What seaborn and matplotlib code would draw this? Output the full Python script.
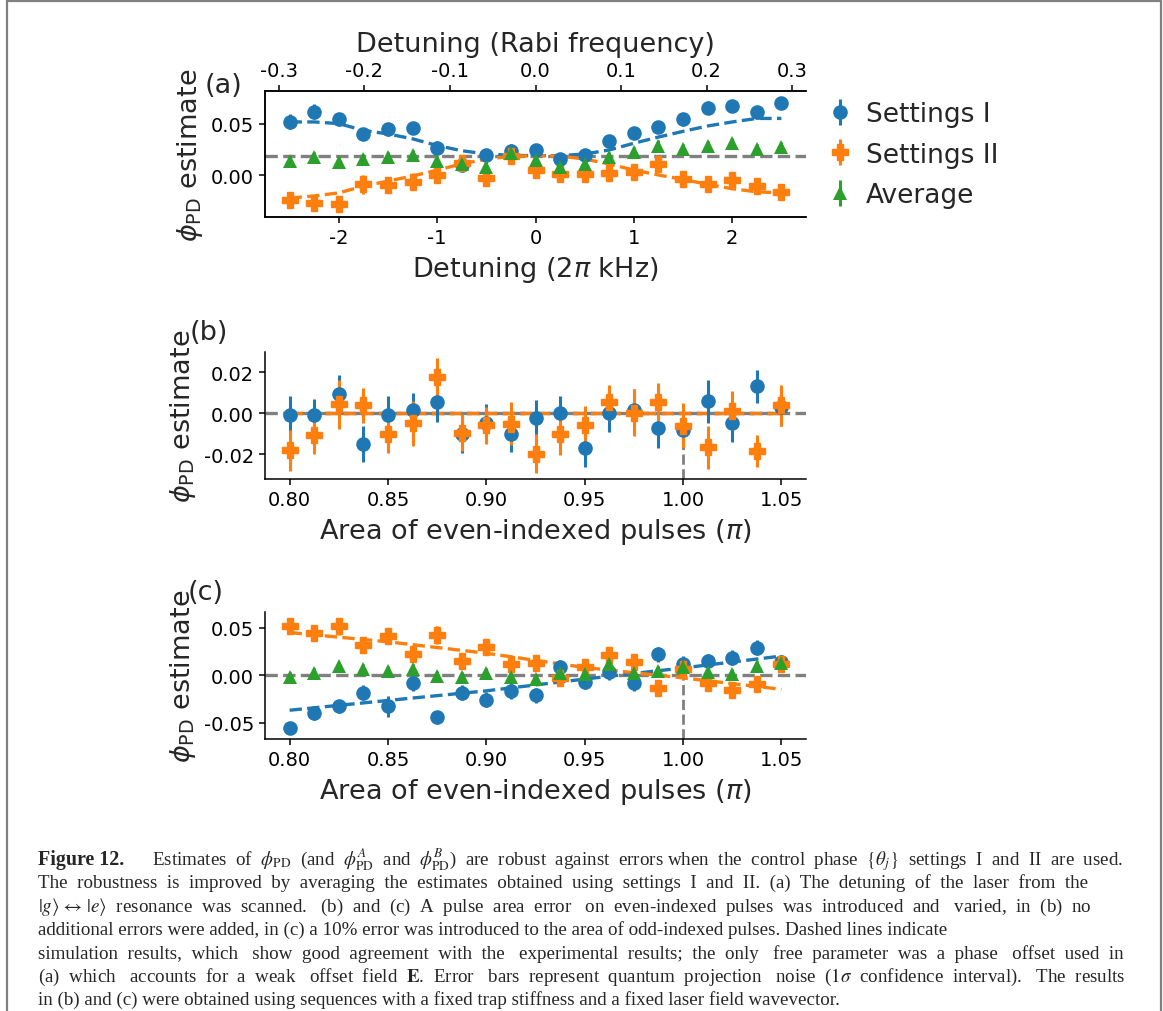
import matplotlib
matplotlib.use("Agg")
import matplotlib.pyplot as plt
import seaborn as sns
import pandas as pd
from matplotlib.lines import Line2D

# ---------------- data: panel (a) ----------------
a_x = [-2.5, -2.25, -2.0, -1.75, -1.5, -1.25, -1.0, -0.75, -0.5, -0.25, 0.0,
       0.25, 0.5, 0.75, 1.0, 1.25, 1.5, 1.75, 2.0, 2.25, 2.5]
a_set1 = [0.052, 0.0615, 0.054, 0.040, 0.0444, 0.0457, 0.0265, 0.0098, 0.0193, 0.0238, 0.0245,
          0.016, 0.0196, 0.033, 0.0412, 0.0467, 0.054, 0.0654, 0.0673, 0.0608, 0.070]
a_set1_err = [0.007, 0.007, 0.006, 0.006, 0.006, 0.006, 0.007, 0.007, 0.006, 0.006, 0.006,
              0.006, 0.006, 0.006, 0.006, 0.006, 0.006, 0.006, 0.006, 0.006, 0.006]
a_set2 = [-0.0235, -0.0268, -0.0278, -0.0088, -0.0098, -0.0062, 0.0003, 0.0118, -0.003, 0.0188, 0.005,
          0.001, 0.0016, 0.002, 0.0033, 0.0108, -0.0039, -0.0082, -0.0049, -0.0105, -0.016]
a_set2_err = [0.007, 0.008, 0.007, 0.009, 0.007, 0.008, 0.007, 0.007, 0.007, 0.007, 0.007,
              0.007, 0.007, 0.007, 0.007, 0.008, 0.007, 0.007, 0.007, 0.008, 0.007]
a_avg = [0.0143, 0.0174, 0.0131, 0.0156, 0.0173, 0.0198, 0.0134, 0.0108, 0.0082, 0.0213, 0.0148,
         0.0085, 0.0106, 0.0175, 0.0223, 0.0288, 0.0251, 0.0286, 0.0312, 0.0252, 0.027]
a_avg_err = [0.005, 0.005, 0.005, 0.005, 0.005, 0.005, 0.005, 0.005, 0.005, 0.005, 0.005,
             0.005, 0.005, 0.005, 0.005, 0.005, 0.005, 0.005, 0.005, 0.005, 0.005]
a_sim1 = [0.0516, 0.0516, 0.050, 0.0435, 0.040, 0.0353, 0.0288, 0.0238, 0.0206, 0.0193, 0.019,
          0.019, 0.0206, 0.0245, 0.031, 0.037, 0.0425, 0.0477, 0.0516, 0.055, 0.055]
a_sim2 = [-0.022, -0.020, -0.017, -0.0105, -0.0056, -0.0007, 0.005, 0.011, 0.0157, 0.0183, 0.019,
          0.0186, 0.0157, 0.011, 0.005, 0.0003, -0.004, -0.0088, -0.013, -0.016, -0.017]
a_offset = 0.0186
a_xticks = [-2, -1, 0, 1, 2]
a_yticks = [0.0, 0.05]
rabi_ticks = [-0.3, -0.2, -0.1, 0.0, 0.1, 0.2, 0.3]
rabi_khz = 8.7

# ---------------- data: panel (b) ----------------
bc_x = [0.8, 0.8125, 0.825, 0.8375, 0.85, 0.8625, 0.875, 0.8875, 0.9, 0.9125, 0.925,
        0.9375, 0.95, 0.9625, 0.975, 0.9875, 1.0, 1.0125, 1.025, 1.0375, 1.05]
b_set1 = [-0.001, -0.001, 0.0093, -0.0149, -0.001, 0.0016, 0.0052, -0.010, -0.0046, -0.010, -0.0024,
          0.0003, -0.0169, 0.0003, 0.0016, -0.0074, -0.0082, 0.0057, -0.0049, 0.0131, 0.0031]
b_set1_err = [0.0092, 0.0078, 0.0095, 0.0088, 0.0095, 0.008, 0.0095, 0.0095, 0.009, 0.009, 0.009,
              0.008, 0.0095, 0.0095, 0.010, 0.0095, 0.009, 0.0105, 0.009, 0.0081, 0.0095]
b_set2 = [-0.0182, -0.0108, 0.0044, 0.0039, -0.0103, -0.0049, 0.0175, -0.0095, -0.0059, -0.0051, -0.0198,
          -0.010, -0.0059, 0.0052, 0.0003, 0.0052, -0.0062, -0.0166, 0.0011, -0.0185, 0.0039]
b_set2_err = [0.0098, 0.009, 0.012, 0.0085, 0.0092, 0.011, 0.0095, 0.0092, 0.009, 0.0105, 0.0095,
              0.0105, 0.0095, 0.0085, 0.0115, 0.0095, 0.011, 0.0105, 0.0095, 0.0079, 0.010]
b_sim_x = [0.80, 1.05]
b_sim1 = [0.0, 0.0]
b_sim2 = [0.0, 0.0]
b_yticks = [-0.02, 0.0, 0.02]

# ---------------- data: panel (c) ----------------
c_set1 = [-0.0552, -0.0401, -0.033, -0.0186, -0.033, -0.0086, -0.0444, -0.0186, -0.0258, -0.0168, -0.0211,
          0.008, -0.0068, 0.0029, -0.0086, 0.0219, 0.0118, 0.0147, 0.0183, 0.0287, 0.0136]
c_set1_err = [0.006, 0.007, 0.007, 0.008, 0.011, 0.008, 0.007, 0.008, 0.008, 0.008, 0.008,
              0.008, 0.008, 0.008, 0.008, 0.008, 0.008, 0.008, 0.008, 0.008, 0.008]
c_set2 = [0.052, 0.0448, 0.0513, 0.0315, 0.0416, 0.0219, 0.0423, 0.0143, 0.0297, 0.0118, 0.013,
          -0.003, 0.0082, 0.0208, 0.0136, -0.0133, 0.006, -0.0079, -0.0161, -0.0097, 0.0118]
c_set2_err = [0.007, 0.008, 0.009, 0.008, 0.008, 0.008, 0.0095, 0.008, 0.008, 0.008, 0.008,
              0.008, 0.008, 0.008, 0.008, 0.008, 0.008, 0.008, 0.008, 0.008, 0.008]
c_avg = [-0.0016, 0.0024, 0.0092, 0.0065, 0.0043, 0.0067, -0.001, -0.0022, 0.002, -0.0025, -0.004,
         0.0025, 0.0007, 0.0119, 0.0025, 0.0043, 0.009, 0.0034, 0.0011, 0.0095, 0.0127]
c_avg_err = [0.005, 0.005, 0.005, 0.005, 0.005, 0.005, 0.005, 0.005, 0.005, 0.005, 0.005,
             0.005, 0.005, 0.005, 0.005, 0.005, 0.005, 0.005, 0.005, 0.005, 0.005]
c_sim_x = [0.80, 0.85, 0.90, 0.95, 1.00, 1.05]
c_sim1 = [-0.037, -0.0267, -0.0166, -0.0042, 0.0075, 0.020]
c_sim2 = [0.0448, 0.035, 0.023, 0.008, -0.003, -0.015]
c_yticks = [-0.05, 0.0, 0.05]
bc_xticks = [0.80, 0.85, 0.90, 0.95, 1.00, 1.05]

labels = ["Settings I", "Settings II", "Average"]

caption_lines = [
    r"Estimates of $\phi_{\rm PD}$ (and $\phi^{A}_{\rm PD}$ and $\phi^{B}_{\rm PD}$) are robust against errors when the control phase $\{\theta_j\}$ settings I and II are used.",
    r"The robustness is improved by averaging the estimates obtained using settings I and II. (a) The detuning of the laser from the",
    r"$|g\rangle\,\leftrightarrow\,|e\rangle$ resonance was scanned. (b) and (c) A pulse area error on even-indexed pulses was introduced and varied, in (b) no",
    r"additional errors were added, in (c) a 10% error was introduced to the area of odd-indexed pulses. Dashed lines indicate",
    r"simulation results, which show good agreement with the experimental results; the only free parameter was a phase offset used in",
    r"(a) which accounts for a weak offset field $\mathbf{E}$. Error bars represent quantum projection noise ($1\sigma$ confidence interval). The results",
    r"in (b) and (c) were obtained using sequences with a fixed trap stiffness and a fixed laser field wavevector.",
]
# right edge of each typeset line (None = ragged, natural width)
caption_right = [1125, 1090, 1093, None, 1125, 1125, None]

# ---------------- style ----------------
sns.set_theme(style="ticks")
plt.rcParams["font.family"] = ["DejaVu Sans"]
plt.rcParams["axes.unicode_minus"] = False
plt.rcParams["mathtext.fontset"] = "dejavusans"
plt.rcParams["axes.linewidth"] = 1.1
plt.rcParams["xtick.major.width"] = 1.1
plt.rcParams["ytick.major.width"] = 1.1
plt.rcParams["xtick.major.size"] = 4.5
plt.rcParams["ytick.major.size"] = 4.5
plt.rcParams["axes.edgecolor"] = "black"
plt.rcParams["xtick.color"] = "black"
plt.rcParams["ytick.color"] = "black"

C1, C2, C3, GR = "#1f77b4", "#ff7f0e", "#2ca02c", "grey"
TICK_FS = 14
LAB_FS = 19.5
MS = 10.5

W, H = 1163, 1012
fig = plt.figure(figsize=(W / 100, H / 100), dpi=100)


def px_axes(left, top, right, bottom):
    return fig.add_axes([left / W, 1 - bottom / H, (right - left) / W, (bottom - top) / H])


axA = px_axes(265, 92, 806, 218)
axB = px_axes(265, 353, 806, 480)
axC = px_axes(265, 613, 806, 740)


def sim_line(ax, x, y, color):
    df = pd.DataFrame({"x": x, "y": y})
    sns.lineplot(data=df, x="x", y="y", ax=ax, color=color, linestyle="--", lw=2.4,
                 legend=False, zorder=2, sort=False)


def points(ax, x, y, e, color, marker, ms=MS, mew=0):
    return ax.errorbar(x, y, yerr=e, fmt=marker, color=color, ms=ms, elinewidth=2.2,
                       capsize=0, zorder=4, markeredgewidth=mew, markeredgecolor=color)


PMS = MS + 1.5

# ---- panel (a)
axA.axhline(a_offset, color=GR, ls="--", lw=2.4, zorder=1)
sim_line(axA, a_x, a_sim1, C1)
sim_line(axA, a_x, a_sim2, C2)
h1 = points(axA, a_x, a_set1, a_set1_err, C1, "o")
h2 = points(axA, a_x, a_set2, a_set2_err, C2, "P", ms=PMS, mew=1.0)
h3 = points(axA, a_x, a_avg, a_avg_err, C3, "^")
axA.set_xticks(a_xticks)
axA.set_xticklabels([str(v) for v in a_xticks])
axA.set_yticks(a_yticks)
axA.set_yticklabels([f"{v:.2f}" for v in a_yticks])
axA.set_xlabel(r"Detuning (2$\pi$ kHz)", fontsize=LAB_FS, labelpad=5)
axA.set_ylabel(r"$\phi_{\rm PD}$ estimate", fontsize=LAB_FS, labelpad=4)
axA.spines["right"].set_visible(False)
axA.tick_params(labelsize=TICK_FS)
axT = axA.twiny()
axT.set_xlim(axA.get_xlim())
axT.set_xticks([t * rabi_khz for t in rabi_ticks])
axT.set_xticklabels([f"{t:.1f}" for t in rabi_ticks])
axT.tick_params(labelsize=TICK_FS)
axT.set_xlabel("Detuning (Rabi frequency)", fontsize=LAB_FS, labelpad=7)
axT.spines["right"].set_visible(False)
fig.text(205 / W, 1 - 86 / H, "(a)", fontsize=LAB_FS, va="center", ha="left")

leg = axA.legend([h1, h2, h3], labels, loc="upper left", bbox_to_anchor=(828 / W, 1 - 102 / H),
                 bbox_transform=fig.transFigure, frameon=False, fontsize=19, handlelength=0.9,
                 handletextpad=0.55, labelspacing=0.55, borderaxespad=0, borderpad=0)

# ---- panel (b)
axB.axhline(0.0, color=GR, ls="--", lw=2.4, zorder=1)
sim_line(axB, b_sim_x, b_sim1, C1)
sim_line(axB, b_sim_x, b_sim2, C2)
points(axB, bc_x, b_set1, b_set1_err, C1, "o")
points(axB, bc_x, b_set2, b_set2_err, C2, "P", ms=PMS, mew=1.0)

# ---- panel (c)
axC.axhline(0.0, color=GR, ls="--", lw=2.4, zorder=1)
sim_line(axC, c_sim_x, c_sim1, C1)
sim_line(axC, c_sim_x, c_sim2, C2)
points(axC, bc_x, c_set1, c_set1_err, C1, "o")
points(axC, bc_x, c_set2, c_set2_err, C2, "P", ms=PMS, mew=1.0)
points(axC, bc_x, c_avg, c_avg_err, C3, "^")

for ax, yt in [(axB, b_yticks), (axC, c_yticks)]:
    ax.set_xticks(bc_xticks)
    ax.set_xticklabels([f"{v:.2f}" for v in bc_xticks])
    ax.set_yticks(yt)
    ax.set_yticklabels([f"{v:.2f}" for v in yt])
    ax.tick_params(labelsize=TICK_FS)
    ax.set_xlabel(r"Area of even-indexed pulses ($\pi$)", fontsize=LAB_FS, labelpad=5)
    ax.set_ylabel(r"$\phi_{\rm PD}$ estimate", fontsize=LAB_FS, labelpad=4)
    sns.despine(ax=ax)
    lo, hi = ax.get_ylim()
    ax.vlines(1.0, lo, 0.0, colors=GR, linestyles="--", lw=2.0, zorder=1)
    ax.set_ylim(lo, hi)

fig.text(190 / W, 1 - 333 / H, "(b)", fontsize=LAB_FS, va="center", ha="left")
fig.text(188 / W, 1 - 593 / H, "(c)", fontsize=LAB_FS, va="center", ha="left")

# ---- caption: one text per line, widened with extra spaces to the typeset width
CAP_FS = 13.7
cap_kw = dict(fontsize=CAP_FS, family="Liberation Serif", math_fontfamily="stix",
              va="baseline", ha="left")
renderer = fig.canvas.get_renderer()


def text_width(t):
    return t.get_window_extent(renderer).width


def split_words(s):
    words, cur, inmath = [], "", False
    for ch in s:
        if ch == "$":
            inmath = not inmath
        if ch == " " and not inmath:
            if cur:
                words.append(cur)
            cur = ""
        else:
            cur += ch
    if cur:
        words.append(cur)
    return words


probe = fig.text(0, 0, "a  a", **cap_kw)
probe2 = fig.text(0, 0, "a a", **cap_kw)
space_w = text_width(probe) - text_width(probe2)
probe.remove()
probe2.remove()


def place_line(x0, x1, y, s):
    t = fig.text(x0 / W, 1 - y / H, s, **cap_kw)
    if x1 is None:
        return
    words = split_words(s)
    n_gaps = len(words) - 1
    extra = int(round((x1 - x0 - text_width(t)) / space_w))
    if extra <= 0 or n_gaps < 1:
        return
    base, rem = divmod(extra, n_gaps)
    gaps = [1 + base] * n_gaps
    for k in range(rem):
        gaps[int((k + 0.5) * n_gaps / rem)] += 1
    t.set_text(words[0] + "".join(" " * g + w for g, w in zip(gaps, words[1:])))


fig.text(38 / W, 1 - 865 / H, "Figure 12.", fontsize=CAP_FS + 0.7, fontweight="bold",
         family="Liberation Serif", va="baseline", ha="left")
for i, line in enumerate(caption_lines):
    x0 = 152 if i == 0 else 38
    place_line(x0, caption_right[i], 865 + 23.4 * i, line)

# ---- page frame
fr = dict(transform=fig.transFigure, color="grey", lw=1.6)
fig.add_artist(Line2D([7 / W, 7 / W], [0, 1 - 2.3 / H], **fr))
fig.add_artist(Line2D([7 / W, 1160.5 / W], [1 - 2.3 / H, 1 - 2.3 / H], **fr))
fig.add_artist(Line2D([1160.5 / W, 1160.5 / W], [0, 1 - 2.3 / H], **fr))

fig.savefig("out.png", dpi=100)
